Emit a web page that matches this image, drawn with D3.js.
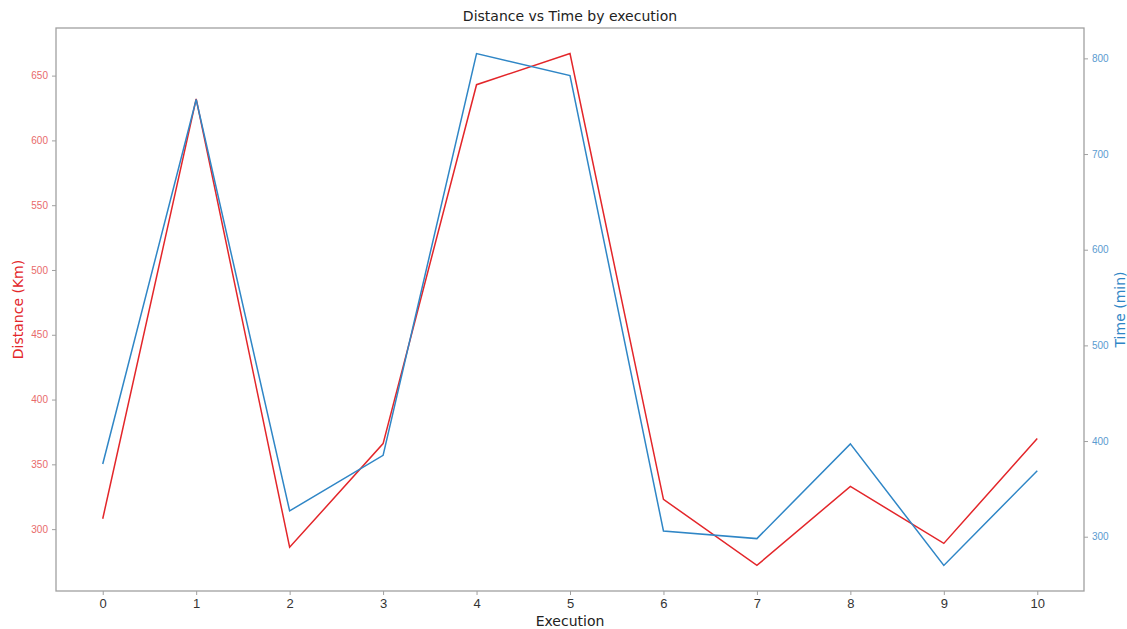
<!DOCTYPE html>
<html>
<head>
<meta charset="utf-8">
<script src="https://cdn.jsdelivr.net/npm/d3@7"></script>
<style>
  body { margin: 0; background: #fff; }
  svg { display: block; font-family: "DejaVu Sans", sans-serif; }
</style>
</head>
<body>
<div id="chart"></div>
<script>
// Datos
const executions = [0, 1, 2, 3, 4, 5, 6, 7, 8, 9, 10];
const distance = [308, 632, 286, 366, 643, 667, 323, 272, 333, 289, 370];
const time = [376, 757, 327, 385, 805, 782, 306, 298, 397, 270, 369];
const distanceTicks = [300, 350, 400, 450, 500, 550, 600, 650];
const timeTicks = [300, 400, 500, 600, 700, 800];

const W = 1127, H = 629;
const m = { t: 28, r: 43, b: 38, l: 56 };
const red = '#e3262a', blue = '#2f86c6', spine = '#a0a0a0';

const svg = d3.select('#chart').append('svg').attr('width', W).attr('height', H);

// márgenes del 5% como matplotlib
const pad = (arr) => {
  const [lo, hi] = d3.extent(arr), d = (hi - lo) * 0.05;
  return [lo - d, hi + d];
};

const x = d3.scaleLinear().domain([-0.5, 10.5]).range([m.l, W - m.r]);
const yL = d3.scaleLinear().domain(pad(distance)).range([H - m.b, m.t]);
const yR = d3.scaleLinear().domain(pad(time)).range([H - m.b, m.t]);

// Ejes
const gx = svg.append('g').attr('transform', `translate(0,${H - m.b})`)
  .call(d3.axisBottom(x).tickValues(executions).tickFormat(d3.format('d')).tickSizeOuter(0).tickSize(4).tickPadding(4));
gx.selectAll('text').attr('font-size', 13).attr('fill', '#333');

const gl = svg.append('g').attr('transform', `translate(${m.l},0)`)
  .call(d3.axisLeft(yL).tickValues(distanceTicks).tickSizeOuter(0).tickSize(4).tickPadding(4));
gl.selectAll('text').attr('font-size', 10).attr('fill', '#e86a6a');

const gr = svg.append('g').attr('transform', `translate(${W - m.r},0)`)
  .call(d3.axisRight(yR).tickValues(timeTicks).tickSizeOuter(0).tickSize(4).tickPadding(4));
gr.selectAll('text').attr('font-size', 10).attr('fill', '#5a9bd0');

[gx, gl, gr].forEach(g => {
  g.select('.domain').remove();
  g.selectAll('line').attr('stroke', spine);
});

// Marco
svg.append('rect')
  .attr('x', m.l).attr('y', m.t)
  .attr('width', W - m.l - m.r).attr('height', H - m.t - m.b)
  .attr('fill', 'none').attr('stroke', spine).attr('stroke-width', 1.3);

// Líneas
const lineL = d3.line().x((d, i) => x(executions[i])).y(d => yL(d));
const lineR = d3.line().x((d, i) => x(executions[i])).y(d => yR(d));

svg.append('path').datum(distance)
  .attr('fill', 'none').attr('stroke', red).attr('stroke-width', 1.5).attr('d', lineL);
svg.append('path').datum(time)
  .attr('fill', 'none').attr('stroke', blue).attr('stroke-width', 1.5).attr('d', lineR);

// Textos
const cx = (m.l + W - m.r) / 2, cy = (m.t + H - m.b) / 2;
svg.append('text').attr('x', cx).attr('y', 21).attr('text-anchor', 'middle')
  .attr('font-size', 14).attr('fill', '#222').text('Distance vs Time by execution');
svg.append('text').attr('x', cx).attr('y', 626).attr('text-anchor', 'middle')
  .attr('font-size', 14).attr('fill', '#222').text('Execution');
svg.append('text').attr('transform', `translate(23,${cy}) rotate(-90)`).attr('text-anchor', 'middle')
  .attr('font-size', 14).attr('fill', red).text('Distance (Km)');
svg.append('text').attr('transform', `translate(1125,${cy}) rotate(-90)`).attr('text-anchor', 'middle')
  .attr('font-size', 14).attr('fill', blue).text('Time (min)');
</script>
</body>
</html>
